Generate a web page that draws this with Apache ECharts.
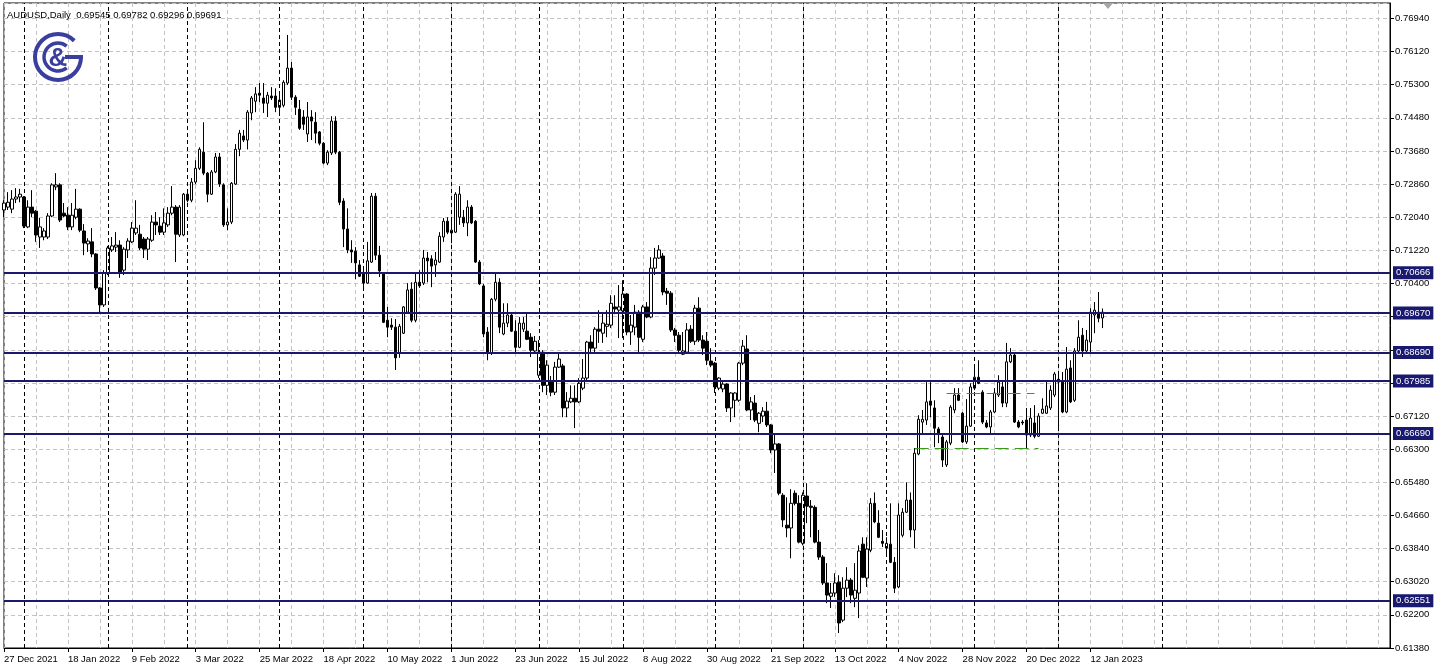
<!DOCTYPE html>
<html>
<head>
<meta charset="utf-8">
<script src="https://cdn.jsdelivr.net/npm/echarts@6.0.0/dist/echarts.min.js"></script>
<style>
html,body{margin:0;padding:0;background:#fff;}
#chart{width:1438px;height:671px;}
</style>
</head>
<body>
<div id="chart"></div>
<script>
// ---------- DATA ----------
const symbolTitle = 'AUDUSD,Daily  0.69545 0.69782 0.69296 0.69691';

const xTickLabels = ['27 Dec 2021','18 Jan 2022','9 Feb 2022','3 Mar 2022','25 Mar 2022','18 Apr 2022','10 May 2022','1 Jun 2022','23 Jun 2022','15 Jul 2022','8 Aug 2022','30 Aug 2022','21 Sep 2022','13 Oct 2022','4 Nov 2022','28 Nov 2022','20 Dec 2022','12 Jan 2023'];

const yTickLabels = ['0.61380','0.62200','0.63020','0.63840','0.64660','0.65480','0.66300','0.67120','0.67940','0.68760','0.69580','0.70400','0.71220','0.72040','0.72860','0.73680','0.74480','0.75300','0.76120','0.76940'];

const levels = [0.70666, 0.69670, 0.68690, 0.67985, 0.66690, 0.62551];

const monthStartIdx = [5,26,46,69,90,112,134,155,178,200,221,243,264,290];

const open = [
0.7222,0.7229,0.7224,0.7249,0.7254,0.7254,0.7180,0.7229,0.7219,0.7155,
0.7155,0.7155,0.7207,0.7279,0.7284,0.7214,0.7209,0.7180,0.7204,0.7224,
0.7170,0.7138,0.7143,0.7113,0.7029,0.6987,0.7066,0.7123,0.7130,0.7135,
0.7073,0.7123,0.7143,0.7165,0.7162,0.7150,0.7125,0.7147,0.7192,0.7182,
0.7167,0.7185,0.7214,0.7229,0.7160,0.7160,0.7261,0.7246,0.7291,0.7325,
0.7365,0.7313,0.7261,0.7316,0.7353,0.7284,0.7185,0.7192,0.7286,0.7372,
0.7405,0.7395,0.7462,0.7491,0.7511,0.7499,0.7486,0.7504,0.7504,0.7476,
0.7481,0.7536,0.7573,0.7501,0.7471,0.7452,0.7410,0.7452,0.7439,0.7415,
0.7387,0.7338,0.7363,0.7442,0.7365,0.7244,0.7175,0.7123,0.7120,0.7086,
0.7066,0.7041,0.7093,0.7256,0.7110,0.7066,0.6949,0.6937,0.6932,0.6868,
0.6917,0.6969,0.7026,0.6949,0.7043,0.7041,0.7103,0.7101,0.7086,0.7093,
0.7155,0.7194,0.7165,0.7167,0.7204,0.7204,0.7190,0.7229,0.7194,0.7093,
0.7034,0.6920,0.6868,0.7001,0.7043,0.6915,0.6942,0.6962,0.6922,0.6882,
0.6927,0.6922,0.6907,0.6873,0.6813,0.6870,0.6788,0.6796,0.6771,0.6833,
0.6836,0.6732,0.6747,0.6756,0.6747,0.6781,0.6806,0.6895,0.6880,0.6927,
0.6917,0.6934,0.6937,0.6982,0.6974,0.6972,0.7014,0.6920,0.6932,0.6969,
0.6902,0.6982,0.6957,0.7078,0.7103,0.7108,0.7021,0.7016,0.6925,0.6912,
0.6865,0.6870,0.6927,0.6897,0.6979,0.6900,0.6897,0.6848,0.6843,0.6781,
0.6779,0.6791,0.6732,0.6751,0.6751,0.6843,0.6878,0.6727,0.6744,0.6694,
0.6712,0.6724,0.6690,0.6628,0.6643,0.6516,0.6442,0.6435,0.6521,0.6496,
0.6397,0.6514,0.6489,0.6486,0.6400,0.6363,0.6299,0.6266,0.6274,0.6301,
0.6207,0.6286,0.6306,0.6261,0.6274,0.6395,0.6311,0.6380,0.6496,0.6447,
0.6402,0.6385,0.6395,0.6350,0.6289,0.6417,0.6474,0.6504,0.6430,0.6618,
0.6697,0.6702,0.6749,0.6732,0.6680,0.6660,0.6591,0.6645,0.6727,0.6764,
0.6719,0.6648,0.6687,0.6781,0.6808,0.6771,0.6695,0.6685,0.6722,0.6764,
0.6784,0.6744,0.6846,0.6863,0.6697,0.6697,0.6702,0.6665,0.6695,0.6662,
0.6719,0.6719,0.6732,0.6764,0.6803,0.6796,0.6722,0.6831,0.6751,0.6873,
0.6912,0.6873,0.6895,0.6962,0.6969,0.69545
];

const high = [
0.7246,0.7266,0.7271,0.7276,0.7274,0.7256,0.7246,0.7271,0.7222,0.7202,
0.7177,0.7214,0.7288,0.7313,0.7288,0.7239,0.7229,0.7239,0.7274,0.7226,
0.7187,0.7152,0.7177,0.7115,0.7031,0.7073,0.7133,0.7155,0.7167,0.7147,
0.7130,0.7152,0.7192,0.7246,0.7185,0.7155,0.7155,0.7209,0.7217,0.7204,
0.7226,0.7229,0.7281,0.7234,0.7234,0.7264,0.7271,0.7301,0.7345,0.7377,
0.7439,0.7316,0.7321,0.7363,0.7363,0.7288,0.7226,0.7291,0.7385,0.7420,
0.7420,0.7469,0.7504,0.7526,0.7536,0.7536,0.7514,0.7526,0.7523,0.7514,
0.7543,0.7655,0.7588,0.7506,0.7494,0.7469,0.7489,0.7469,0.7464,0.7417,
0.7390,0.7370,0.7454,0.7454,0.7368,0.7251,0.7226,0.7147,0.7130,0.7098,
0.7081,0.7143,0.7264,0.7264,0.7133,0.7068,0.6982,0.6954,0.6952,0.6940,
0.6984,0.7041,0.7043,0.7066,0.7073,0.7123,0.7118,0.7110,0.7118,0.7167,
0.7202,0.7204,0.7204,0.7266,0.7281,0.7222,0.7246,0.7234,0.7197,0.7098,
0.7039,0.6932,0.7004,0.7066,0.7053,0.6991,0.6991,0.6969,0.6949,0.6957,
0.6957,0.6967,0.6917,0.6910,0.6900,0.6875,0.6850,0.6811,0.6846,0.6870,
0.6841,0.6771,0.6788,0.6788,0.6806,0.6853,0.6898,0.6912,0.6932,0.6974,
0.6967,0.6974,0.7011,0.7011,0.7036,0.7048,0.7016,0.6962,0.6987,0.6974,
0.6987,0.6994,0.7105,0.7128,0.7135,0.7115,0.7029,0.7021,0.6930,0.6920,
0.6920,0.6942,0.6937,0.6987,0.7006,0.6912,0.6920,0.6880,0.6846,0.6808,
0.6796,0.6793,0.6771,0.6771,0.6846,0.6900,0.6912,0.6759,0.6764,0.6722,
0.6734,0.6747,0.6692,0.6670,0.6645,0.6521,0.6511,0.6531,0.6528,0.6516,
0.6523,0.6546,0.6504,0.6491,0.6430,0.6368,0.6348,0.6299,0.6323,0.6318,
0.6313,0.6338,0.6311,0.6348,0.6392,0.6412,0.6412,0.6509,0.6523,0.6479,
0.6430,0.6412,0.6496,0.6363,0.6496,0.6484,0.6548,0.6523,0.6633,0.6714,
0.6727,0.6796,0.6796,0.6751,0.6685,0.6665,0.6653,0.6739,0.6781,0.6781,
0.6722,0.6754,0.6793,0.6838,0.6850,0.6776,0.6702,0.6727,0.6781,0.6813,
0.6801,0.6893,0.6880,0.6870,0.6702,0.6702,0.6732,0.6732,0.6739,0.6719,
0.6756,0.6801,0.6788,0.6821,0.6818,0.6821,0.6883,0.6850,0.6880,0.6949,
0.6930,0.6925,0.6979,0.6994,0.7019,0.69782
];

const low = [
0.7204,0.7222,0.7214,0.7239,0.7241,0.7177,0.7177,0.7204,0.7143,0.7128,
0.7147,0.7150,0.7204,0.7271,0.7192,0.7204,0.7172,0.7172,0.7199,0.7167,
0.7110,0.7118,0.7105,0.7024,0.6967,0.6982,0.7061,0.7118,0.7118,0.7054,
0.7061,0.7103,0.7140,0.7160,0.7123,0.7103,0.7098,0.7143,0.7160,0.7160,
0.7160,0.7180,0.7209,0.7093,0.7155,0.7157,0.7241,0.7241,0.7286,0.7321,
0.7308,0.7241,0.7259,0.7313,0.7279,0.7180,0.7172,0.7187,0.7284,0.7355,
0.7390,0.7372,0.7444,0.7464,0.7489,0.7462,0.7452,0.7494,0.7464,0.7464,
0.7476,0.7531,0.7494,0.7457,0.7420,0.7420,0.7390,0.7395,0.7387,0.7382,
0.7335,0.7333,0.7358,0.7360,0.7234,0.7130,0.7115,0.7091,0.7051,0.7056,
0.7029,0.7039,0.7091,0.7098,0.7056,0.6942,0.6907,0.6925,0.6826,0.6856,
0.6915,0.6967,0.6944,0.6944,0.7029,0.7036,0.7043,0.7031,0.7056,0.7091,
0.7143,0.7162,0.7140,0.7165,0.7185,0.7180,0.7157,0.7187,0.7091,0.7036,
0.6907,0.6850,0.6863,0.6996,0.6917,0.6912,0.6932,0.6920,0.6868,0.6880,
0.6920,0.6900,0.6858,0.6868,0.6806,0.6771,0.6764,0.6761,0.6764,0.6831,
0.6709,0.6709,0.6744,0.6682,0.6744,0.6776,0.6801,0.6870,0.6870,0.6893,
0.6893,0.6907,0.6930,0.6964,0.6905,0.6905,0.6912,0.6888,0.6912,0.6870,
0.6895,0.6954,0.6954,0.7061,0.7101,0.7011,0.6987,0.6920,0.6895,0.6870,
0.6863,0.6868,0.6893,0.6888,0.6895,0.6863,0.6838,0.6833,0.6769,0.6776,
0.6771,0.6722,0.6697,0.6709,0.6747,0.6838,0.6724,0.6702,0.6697,0.6672,
0.6697,0.6685,0.6620,0.6571,0.6516,0.6437,0.6412,0.6360,0.6491,0.6397,
0.6392,0.6447,0.6412,0.6397,0.6356,0.6294,0.6249,0.6237,0.6264,0.6175,
0.6202,0.6264,0.6249,0.6239,0.6212,0.6311,0.6289,0.6375,0.6447,0.6410,
0.6388,0.6368,0.6348,0.6274,0.6286,0.6412,0.6472,0.6412,0.6385,0.6615,
0.6670,0.6690,0.6709,0.6635,0.6645,0.6586,0.6586,0.6640,0.6719,0.6749,
0.6645,0.6643,0.6685,0.6776,0.6791,0.6692,0.6682,0.6670,0.6719,0.6759,
0.6734,0.6734,0.6843,0.6695,0.6682,0.6690,0.6633,0.6660,0.6657,0.6660,
0.6717,0.6717,0.6727,0.6759,0.6685,0.6719,0.6719,0.6744,0.6747,0.6870,
0.6858,0.6870,0.6870,0.6917,0.6944,0.69296
];

const close = [
0.7239,0.7241,0.7249,0.7254,0.7261,0.7182,0.7229,0.7214,0.7160,0.7180,
0.7170,0.7207,0.7284,0.7284,0.7197,0.7207,0.7180,0.7209,0.7224,0.7172,
0.7140,0.7145,0.7113,0.7029,0.6987,0.7066,0.7128,0.7133,0.7135,0.7066,
0.7125,0.7145,0.7177,0.7177,0.7128,0.7125,0.7150,0.7192,0.7185,0.7167,
0.7190,0.7214,0.7229,0.7162,0.7229,0.7261,0.7246,0.7291,0.7325,0.7372,
0.7313,0.7261,0.7316,0.7353,0.7286,0.7185,0.7192,0.7288,0.7372,0.7412,
0.7395,0.7464,0.7499,0.7509,0.7506,0.7486,0.7506,0.7499,0.7476,0.7494,
0.7538,0.7573,0.7501,0.7476,0.7424,0.7434,0.7452,0.7442,0.7412,0.7387,
0.7338,0.7365,0.7442,0.7365,0.7241,0.7175,0.7123,0.7118,0.7091,0.7058,
0.7041,0.7096,0.7256,0.7110,0.7071,0.6944,0.6932,0.6932,0.6856,0.6934,
0.6982,0.7024,0.6949,0.7043,0.7034,0.7103,0.7096,0.7083,0.7098,0.7157,
0.7194,0.7167,0.7172,0.7261,0.7261,0.7190,0.7229,0.7190,0.7093,0.7039,
0.6915,0.6868,0.7001,0.7043,0.6932,0.6942,0.6962,0.6922,0.6882,0.6942,
0.6942,0.6902,0.6875,0.6897,0.6870,0.6788,0.6838,0.6771,0.6833,0.6853,
0.6732,0.6749,0.6756,0.6747,0.6793,0.6806,0.6895,0.6880,0.6927,0.6922,
0.6942,0.6939,0.6991,0.6977,0.6982,0.7014,0.6920,0.6937,0.6969,0.6907,
0.6982,0.6957,0.7078,0.7103,0.7123,0.7019,0.7016,0.6925,0.6912,0.6875,
0.6873,0.6925,0.6897,0.6979,0.6900,0.6880,0.6850,0.6838,0.6784,0.6806,
0.6791,0.6732,0.6769,0.6769,0.6843,0.6885,0.6727,0.6747,0.6702,0.6719,
0.6724,0.6690,0.6628,0.6643,0.6521,0.6455,0.6435,0.6496,0.6496,0.6400,
0.6516,0.6489,0.6486,0.6400,0.6363,0.6299,0.6269,0.6274,0.6299,0.6200,
0.6286,0.6306,0.6269,0.6281,0.6378,0.6313,0.6383,0.6496,0.6450,0.6412,
0.6397,0.6397,0.6350,0.6286,0.6467,0.6474,0.6504,0.6430,0.6620,0.6704,
0.6704,0.6747,0.6739,0.6682,0.6670,0.6603,0.6648,0.6734,0.6764,0.6751,
0.6648,0.6687,0.6784,0.6808,0.6793,0.6697,0.6685,0.6722,0.6769,0.6796,
0.6744,0.6846,0.6863,0.6697,0.6685,0.6695,0.6665,0.6707,0.6662,0.6712,
0.6729,0.6737,0.6776,0.6816,0.6796,0.6722,0.6828,0.6747,0.6873,0.6907,
0.6873,0.6900,0.6969,0.6974,0.6954,0.69691
];

// trend-line drawings: [startIdx, endIdx, price]
const greenLines = [[228, 259, 0.6632], [236, 258, 0.6768]];

// ---------- CATEGORIES (trading days, incl. empty future slots) ----------
const SLOT_COUNT = 348;
const categories = [];
(function () {
  let t = Date.UTC(2021, 11, 27);
  while (categories.length < SLOT_COUNT) {
    const d = new Date(t);
    const wd = d.getUTCDay();
    const s = d.toISOString().slice(0, 10);
    if (wd !== 0 && wd !== 6 && s !== '2022-12-26') categories.push(s);
    t += 86400000;
  }
})();

const candles = open.map((o, i) => [o, close[i], low[i], high[i]]);

// ---------- CHART ----------
const FONT = 'Liberation Sans, Arial, sans-serif';
const NAVY = '#191970';
const chart = echarts.init(document.getElementById('chart'), null, { renderer: 'canvas' });

const Y_MIN = 0.6138, Y_INT = 0.0082, Y_MAX = 0.77341;

const markData = [];
monthStartIdx.forEach(i => markData.push({
  xAxis: i,
  lineStyle: { color: '#000', width: 1, type: [4, 3] },
  label: { show: false }
}));
levels.forEach(v => markData.push({
  yAxis: v,
  lineStyle: { color: NAVY, width: 2, type: 'solid' },
  label: {
    show: true, position: 'end', distance: 3,
    formatter: p => Number(p.value).toFixed(5),
    color: '#fff', backgroundColor: NAVY, padding: [2, 3, 1, 3],
    fontFamily: FONT, fontSize: 9.5
  }
}));
greenLines.forEach(g => markData.push([
  { coord: [g[0], g[2]], lineStyle: { color: '#3a9a1a', width: 1, type: [14, 6] }, label: { show: false } },
  { coord: [g[1], g[2]] }
]));

const option = {
  animation: false,
  backgroundColor: '#ffffff',
  title: {
    text: symbolTitle,
    left: 2, top: 5,
    textStyle: { fontFamily: FONT, fontSize: 9.5, fontWeight: 'normal', color: '#000' }
  },
  grid: {
    left: 4, right: 48, top: 3, bottom: 23,
    show: true, borderColor: '#000', borderWidth: 1, backgroundColor: 'transparent'
  },
  xAxis: {
    type: 'category',
    data: categories,
    boundaryGap: false,
    axisLine: { show: true, lineStyle: { color: '#000', width: 1 } },
    axisTick: {
      show: true, length: 4, lineStyle: { color: '#000' },
      interval: (i) => i % 16 === 0 && i <= 272
    },
    axisLabel: {
      show: true,
      interval: (i) => i % 16 === 0 && i <= 272,
      formatter: (v, i) => xTickLabels[Math.round(i / 16)] || '',
      align: 'left', margin: 6,
      color: '#000', fontFamily: FONT, fontSize: 9.5
    },
    splitLine: {
      show: true,
      interval: (i) => i % 8 === 0,
      lineStyle: { color: '#c4c4c4', width: 1, type: [4, 3] }
    }
  },
  yAxis: {
    type: 'value',
    position: 'right',
    min: Y_MIN, max: Y_MAX, interval: Y_INT,
    scale: true,
    axisLine: { show: true, lineStyle: { color: '#000', width: 1 } },
    axisTick: { show: true, length: 4, lineStyle: { color: '#000' } },
    axisLabel: {
      show: true, margin: 5, showMaxLabel: false,
      formatter: v => yTickLabels[Math.round((v - Y_MIN) / Y_INT)] || '',
      color: '#000', fontFamily: FONT, fontSize: 9.5
    },
    splitLine: { show: true, lineStyle: { color: '#c4c4c4', width: 1, type: [4, 3] } }
  },
  graphic: [
    { type: 'arc', silent: true, z: 10,
      shape: { cx: 58, cy: 57, r: 23, startAngle: 0, endAngle: Math.PI * 7 / 4, clockwise: true },
      style: { stroke: '#3a3f9f', lineWidth: 4, fill: 'none' } },
    { type: 'arc', silent: true, z: 10,
      shape: { cx: 58, cy: 57, r: 14, startAngle: 0.9, endAngle: Math.PI * 2 - 0.9, clockwise: true },
      style: { stroke: '#3a3f9f', lineWidth: 3.5, fill: 'none' } },
    { type: 'line', silent: true, z: 10,
      shape: { x1: 65, y1: 57, x2: 83, y2: 57 },
      style: { stroke: '#3a3f9f', lineWidth: 4 } },
    { type: 'text', silent: true, z: 11,
      style: { text: '&', x: 58, y: 59, align: 'center', verticalAlign: 'middle',
               fill: '#3a3f9f', font: 'bold 26px "Liberation Sans", Arial, sans-serif' } },
    { type: 'polygon', silent: true, z: 10,
      shape: { points: [[1103, 3], [1113, 3], [1108, 9]] },
      style: { fill: '#a6a6a6' } }
  ],
  series: [{
    type: 'candlestick',
    data: candles,
    barWidth: 3,
    itemStyle: {
      color: '#ffffff', color0: '#000000',
      borderColor: '#000000', borderColor0: '#000000', borderWidth: 1
    },
    markLine: {
      silent: true,
      precision: 5,
      symbol: ['none', 'none'],
      animation: false,
      data: markData
    }
  }]
};
chart.setOption(option);
</script>
</body>
</html>
